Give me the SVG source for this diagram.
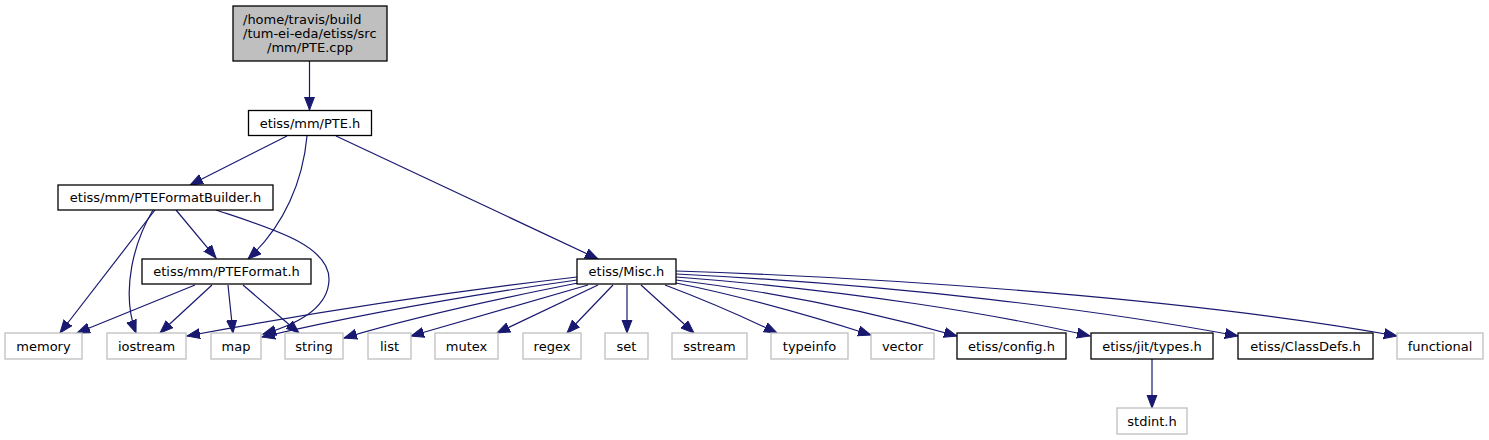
<svg xmlns="http://www.w3.org/2000/svg" width="1489" height="440" viewBox="0 0 1489 440">
<style>
text{font-family:"DejaVu Sans","Liberation Sans",sans-serif;font-size:13px;fill:#000;text-anchor:middle}
.doc rect{fill:#fff;stroke:#000;stroke-width:1.3}
.ext rect{fill:#fff;stroke:#bfbfbf;stroke-width:1.3}
.root rect{fill:#bfbfbf;stroke:#000;stroke-width:1.3}
#edges path{fill:none;stroke:#191970;stroke-width:1.2;marker-end:url(#arr)}
</style>
<defs>
<marker id="arr" markerUnits="userSpaceOnUse" markerWidth="14" markerHeight="12" refX="13" refY="5.5" orient="auto" viewBox="0 0 14 12">
<path d="M0,0.5 L13,5.5 L0,10.5 z" fill="#191970" stroke="#191970" stroke-width="1"/>
</marker>
</defs>
<rect width="1489" height="440" fill="#fff"/>
<g id="edges">
<path d="M309.5,61 L309.5,110"/>
<path d="M287,136 L190,185"/>
<path d="M307,136 C303,180 285,225 248,259"/>
<path d="M336,136 L598,259"/>
<path d="M155,210 L60,333"/>
<path d="M153,210 C135,240 120,290 136,333"/>
<path d="M176,210 L216,258"/>
<path d="M216,210 C270,228 330,245 329,280 C328,310 295,325 263,334"/>
<path d="M195,285 L77,333"/>
<path d="M212,285 L160,333"/>
<path d="M228,285 L233,333"/>
<path d="M243,285 L299,333"/>
<path d="M577,277 Q380,300 187,336"/>
<path d="M577,280 Q400,305 262,337"/>
<path d="M578,283 Q430,312 344,338"/>
<path d="M588,285 L411,336"/>
<path d="M598,285 L497,333"/>
<path d="M613,285 L567,333"/>
<path d="M627,285 L627,333"/>
<path d="M641,285 L694,333"/>
<path d="M665,285 C710,302 750,320 777,333"/>
<path d="M676,283 C760,300 830,322 871,335"/>
<path d="M676,280 C800,295 900,320 957,336"/>
<path d="M676,277 C850,290 1000,315 1090,336"/>
<path d="M676,274 C900,285 1100,310 1238,336"/>
<path d="M676,271 C900,278 1200,300 1397,336"/>
<path d="M1152,359 L1152,408"/>
</g>
<g id="n_pte_cpp" class="root"><rect x="233" y="6" width="154" height="55"/>
<text x="243" y="24" style="text-anchor:start">/home/travis/build</text>
<text x="243" y="38" style="text-anchor:start">/tum-ei-eda/etiss/src</text>
<text x="310" y="52">/mm/PTE.cpp</text></g>
<g id="n_pte_h" class="doc"><rect x="248.5" y="110.5" width="123" height="25"/><text x="310" y="127.5">etiss/mm/PTE.h</text></g>
<g id="n_builder" class="doc"><rect x="58" y="185" width="215" height="25"/><text x="165.5" y="202">etiss/mm/PTEFormatBuilder.h</text></g>
<g id="n_format" class="doc"><rect x="142" y="259" width="169" height="25"/><text x="226.5" y="276">etiss/mm/PTEFormat.h</text></g>
<g id="n_misc" class="doc"><rect x="577" y="259" width="99" height="25"/><text x="626.5" y="276">etiss/Misc.h</text></g>
<g id="n_memory" class="ext"><rect x="5" y="333" width="77" height="26"/><text x="43.5" y="350.5">memory</text></g>
<g id="n_iostream" class="ext"><rect x="107" y="333" width="79" height="26"/><text x="146.5" y="350.5">iostream</text></g>
<g id="n_map" class="ext"><rect x="211" y="333" width="50" height="26"/><text x="236" y="350.5">map</text></g>
<g id="n_string" class="ext"><rect x="285" y="333" width="58" height="26"/><text x="314" y="350.5">string</text></g>
<g id="n_list" class="ext"><rect x="368" y="333" width="43" height="26"/><text x="389.5" y="350.5">list</text></g>
<g id="n_mutex" class="ext"><rect x="435" y="333" width="63" height="26"/><text x="466.5" y="350.5">mutex</text></g>
<g id="n_regex" class="ext"><rect x="523" y="333" width="58" height="26"/><text x="552" y="350.5">regex</text></g>
<g id="n_set" class="ext"><rect x="605" y="333" width="43" height="26"/><text x="626.5" y="350.5">set</text></g>
<g id="n_sstream" class="ext"><rect x="672" y="333" width="75" height="26"/><text x="709.5" y="350.5">sstream</text></g>
<g id="n_typeinfo" class="ext"><rect x="771" y="333" width="77" height="26"/><text x="809.5" y="350.5">typeinfo</text></g>
<g id="n_vector" class="ext"><rect x="871" y="333" width="63" height="26"/><text x="902.5" y="350.5">vector</text></g>
<g id="n_config" class="doc"><rect x="957" y="333" width="109" height="26"/><text x="1011.5" y="350.5">etiss/config.h</text></g>
<g id="n_types" class="doc"><rect x="1091" y="333" width="122" height="26"/><text x="1152" y="350.5">etiss/jit/types.h</text></g>
<g id="n_classdefs" class="doc"><rect x="1238" y="333" width="135" height="26"/><text x="1305.5" y="350.5">etiss/ClassDefs.h</text></g>
<g id="n_functional" class="ext"><rect x="1397" y="333" width="86" height="26"/><text x="1440" y="350.5">functional</text></g>
<g id="n_stdint" class="ext"><rect x="1117" y="408" width="70" height="26"/><text x="1152" y="425.5">stdint.h</text></g>
</svg>
